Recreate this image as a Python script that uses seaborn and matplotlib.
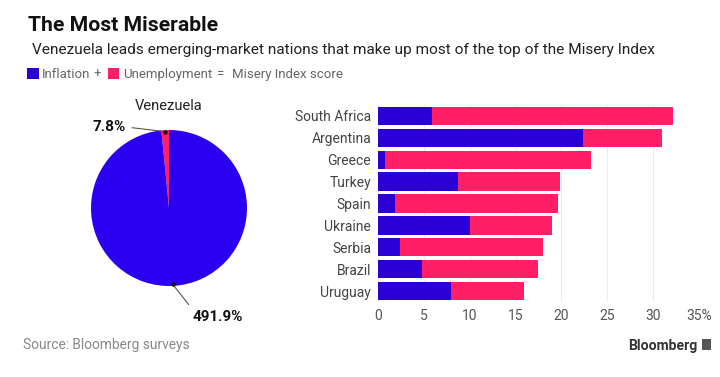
import numpy as np
import matplotlib
matplotlib.use("Agg")
import matplotlib.pyplot as plt
import seaborn as sns
from matplotlib.patches import Rectangle

# ---- data ----
countries = ["South Africa", "Argentina", "Greece", "Turkey", "Spain",
             "Ukraine", "Serbia", "Brazil", "Uruguay"]
inflation = [5.9, 22.4, 0.8, 8.7, 1.8, 10.0, 2.4, 4.8, 8.0]
unemployment = [26.3, 8.6, 22.4, 11.1, 17.8, 9.0, 15.6, 12.6, 7.9]
venezuela_labels = ["Unemployment", "Inflation"]
venezuela_values = [7.8, 491.9]
xticks = [0, 5, 10, 15, 20, 25, 30, 35]
xtick_labels = ["0", "5", "10", "15", "20", "25", "30", "35%"]

BLUE = "#2a00d4"
PIE_BLUE = "#2b00f0"
PINK = "#ff1f66"

sns.set_theme(style="white")
plt.rcParams["font.family"] = ["Roboto", "DejaVu Sans"]

W, H = 720, 377
fig = plt.figure(figsize=(W / 100, H / 100), dpi=100)
renderer = fig.canvas.get_renderer()


def fx(x):
    return x / W


def fy(y):
    return 1 - y / H


def ftext(x, y, s, size, target_w=None, **kw):
    t = fig.text(fx(x), fy(y), s, fontsize=size, **kw)
    if target_w is not None:
        w = t.get_window_extent(renderer).width
        t.set_fontsize(size * target_w / w)
    return t


# ---- header ----
ftext(28, 31, "The Most Miserable", 16, target_w=190, fontweight="bold",
      color="#111111", va="baseline")
ftext(32, 54, "Venezuela leads emerging-market nations that make up most of the top of the Misery Index",
      12, target_w=621, color="#222222", va="baseline")

# legend row
fig.patches.append(Rectangle((fx(27), fy(79)), 12 / W, 11 / H, transform=fig.transFigure,
                             facecolor=BLUE, edgecolor="none"))
fig.patches.append(Rectangle((fx(108), fy(79)), 11 / W, 11 / H, transform=fig.transFigure,
                             facecolor=PINK, edgecolor="none"))
ftext(42, 78, "Inflation", 9.5, color="#666666", va="baseline")
ftext(97, 78, "+", 9.5, color="#666666", va="baseline", ha="center")
ftext(123, 78, "Unemployment", 9.5, color="#666666", va="baseline")
ftext(221, 78, "=", 9.5, color="#666666", va="baseline", ha="center")
ftext(232, 78, "Misery Index score", 9.5, color="#666666", va="baseline")

# ---- pie ----
cx, cy, r = 169, 208, 78
axp = fig.add_axes([fx(cx - r), fy(cy + r), 2 * r / W, 2 * r / H])
wedges, _ = axp.pie(venezuela_values, colors=[PINK, PIE_BLUE], startangle=90,
                    counterclock=True, wedgeprops=dict(linewidth=0))
axp.set_xlim(-1, 1)
axp.set_ylim(-1, 1)
axp.set_aspect("equal")
axp.axis("off")
ftext(cx, 110, "Venezuela", 10.5, color="#222222", ha="center", va="baseline")

mids = [np.deg2rad((w.theta1 + w.theta2) / 2) for w in wedges]
pts = [(0.98 * np.cos(a), 0.98 * np.sin(a)) for a in mids]
label_pos = [(126, 377 - 127), (193, 377 - 317)]
label_txt = [f"{venezuela_values[0]}%", f"{venezuela_values[1]}%"]
has = ["right", "left"]
relpos = [(1.0, 0.5), (0.0, 1.0)]
for p, lp, s, ha, rp in zip(pts, label_pos, label_txt, has, relpos):
    axp.plot([p[0]], [p[1]], "o", color="#111111", ms=2.2, clip_on=False, zorder=5)
    axp.annotate(s, xy=p, xycoords="data", xytext=lp, textcoords="figure pixels",
                 ha=ha, va="center", fontsize=11, fontweight="bold", color="#111111",
                 annotation_clip=False,
                 arrowprops=dict(arrowstyle="-", color="#555555", lw=0.8,
                                 shrinkA=2, shrinkB=0, relpos=rp))

# ---- bars ----
axb = fig.add_axes([fx(378), fy(302), (699 - 378) / W, (302 - 105) / H])
totals = [i + u for i, u in zip(inflation, unemployment)]
sns.barplot(x=totals, y=countries, color=PINK, orient="h", width=0.84,
            saturation=1, ax=axb, linewidth=0, zorder=2)
sns.barplot(x=inflation, y=countries, color=BLUE, orient="h", width=0.84,
            saturation=1, ax=axb, linewidth=0, zorder=3)
axb.set_xlim(0, 35)
axb.set_ylim(8.5, -0.5)
axb.set_xticks(xticks)
axb.set_xticklabels(xtick_labels)
axb.grid(axis="x", color="#ececec", lw=0.8, zorder=0)
axb.set_axisbelow(True)
for s in axb.spines.values():
    s.set_visible(False)
axb.tick_params(axis="y", length=0, pad=5, labelsize=10, labelcolor="#444444")
axb.tick_params(axis="x", length=0, pad=5, labelsize=10, labelcolor="#555555")
axb.set_xlabel("")
axb.set_ylabel("")

# ---- footer ----
ftext(23, 349, "Source: Bloomberg surveys", 10, target_w=167, color="#888888", va="baseline")
ftext(697, 350, "Bloomberg", 10, target_w=69, fontweight="bold", color="#333333",
      ha="right", va="baseline")
fig.patches.append(Rectangle((fx(702), fy(350)), 9 / W, 11 / H, transform=fig.transFigure,
                             facecolor="#555555", edgecolor="none"))

fig.savefig("out.png", dpi=100)
